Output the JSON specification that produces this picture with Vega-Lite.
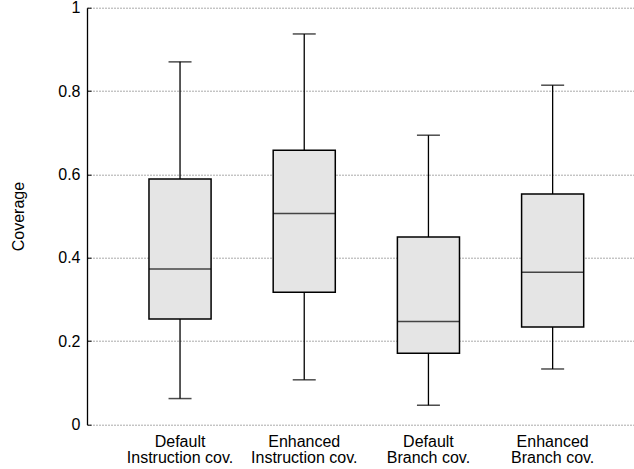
{
  "$schema": "https://vega.github.io/schema/vega-lite/v6.json",
  "width": 547,
  "height": 416.7,
  "autosize": {"type": "none"},
  "padding": {"left": 87, "top": 7.7, "right": 0, "bottom": 44.6},
  "config": {"view": {"stroke": null}, "font": "Liberation Sans"},
  "data": {
    "values": [
      {"cat": "Default|Instruction cov.", "min": 0.062, "q1": 0.253, "median": 0.373, "q3": 0.589, "max": 0.870},
      {"cat": "Enhanced|Instruction cov.", "min": 0.107, "q1": 0.317, "median": 0.506, "q3": 0.658, "max": 0.937},
      {"cat": "Default|Branch cov.", "min": 0.046, "q1": 0.171, "median": 0.247, "q3": 0.450, "max": 0.694},
      {"cat": "Enhanced|Branch cov.", "min": 0.133, "q1": 0.234, "median": 0.365, "q3": 0.553, "max": 0.814}
    ]
  },
  "encoding": {
    "x": {
      "field": "cat",
      "type": "nominal",
      "sort": null,
      "scale": {"paddingInner": 0.5, "paddingOuter": 0.452, "align": 0.552},
      "axis": {
        "title": null,
        "labelExpr": "split(datum.value, '|')",
        "labelAngle": 0,
        "domain": false,
        "ticks": false,
        "grid": false,
        "labelFontSize": 16,
        "labelColor": "black",
        "labelLineHeight": 16,
        "labelPadding": 9
      }
    }
  },
  "layer": [
    {
      "mark": {"type": "rule", "color": "black", "strokeWidth": 1.3},
      "encoding": {
        "y": {
          "field": "min",
          "type": "quantitative",
          "scale": {"domain": [0, 1], "nice": false, "zero": false},
          "axis": {
            "title": "Coverage",
            "titleFontSize": 16,
            "titleFontWeight": "normal",
            "titleColor": "black",
            "titlePadding": 31,
            "values": [0, 0.2, 0.4, 0.6, 0.8, 1],
            "format": "~g",
            "labelFontSize": 16,
            "labelColor": "black",
            "labelPadding": 11,
            "tickSize": -4,
            "tickColor": "black",
            "domainColor": "black",
            "domainWidth": 1.3,
            "grid": true,
            "gridDash": [1, 2],
            "gridColor": "#555555"
          }
        },
        "y2": {"field": "max"}
      }
    },
    {
      "mark": {"type": "bar", "fill": "#e5e5e5", "stroke": "black", "strokeWidth": 1.5},
      "encoding": {
        "y": {"field": "q1", "type": "quantitative"},
        "y2": {"field": "q3"}
      }
    },
    {
      "mark": {"type": "tick", "color": "black", "size": 62, "thickness": 1.5},
      "encoding": {"y": {"field": "median", "type": "quantitative"}}
    },
    {
      "mark": {"type": "tick", "color": "black", "size": 23, "thickness": 1.5},
      "encoding": {"y": {"field": "min", "type": "quantitative"}}
    },
    {
      "mark": {"type": "tick", "color": "black", "size": 23, "thickness": 1.5},
      "encoding": {"y": {"field": "max", "type": "quantitative"}}
    }
  ]
}
